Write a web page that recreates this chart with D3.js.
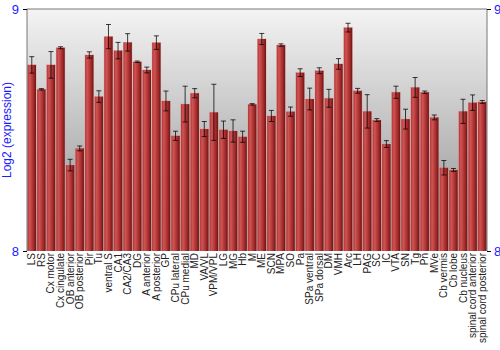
<!DOCTYPE html>
<html>
<head>
<meta charset="utf-8">
<script src="https://cdn.jsdelivr.net/npm/d3@7"></script>
<style>
  body { margin: 0; background: #fff; }
  svg { display: block; font-family: "Liberation Sans", Arial, sans-serif; }
</style>
</head>
<body>
<svg id="chart" width="500" height="350"></svg>
<script>
const regions = ["LS", "RS", "Cx motor", "Cx cingulate", "OB anterior", "OB posterior", "Pir", "Tu",
  "ventral S", "CA1", "CA2/CA3", "DG", "A anterior", "A posterior", "GP", "CPu lateral", "CPu medial",
  "MD", "VA/VL", "VPM/VPL", "LG", "MG", "Hb", "M", "ME", "SCN", "MPA", "SO", "Pa", "SPa ventral",
  "SPa dorsal", "DM", "VMH", "Arc", "LH", "PAG", "SC", "IC", "VTA", "SN", "Tg", "Pn", "MVe",
  "Cb vermis", "Cb lobe", "Cb nucleus", "spinal cord anterior", "spinal cord posterior"];

const expression = [8.769, 8.668, 8.769, 8.840, 8.355, 8.424, 8.810, 8.638,
  8.886, 8.828, 8.862, 8.782, 8.748, 8.861, 8.620, 8.476, 8.607,
  8.652, 8.504, 8.573, 8.501, 8.496, 8.472, 8.606, 8.876, 8.558, 8.851, 8.576, 8.737, 8.628,
  8.745, 8.631, 8.773, 8.923, 8.662, 8.577, 8.541, 8.442, 8.656, 8.545, 8.676, 8.656, 8.552,
  8.344, 8.335, 8.577, 8.613, 8.616];

const errors = [0.034, 0.003, 0.055, 0.004, 0.024, 0.010, 0.013, 0.024,
  0.050, 0.034, 0.036, 0.003, 0.012, 0.028, 0.041, 0.019, 0.074,
  0.019, 0.031, 0.116, 0.036, 0.046, 0.023, 0.003, 0.023, 0.023, 0.005, 0.019, 0.016, 0.045,
  0.012, 0.037, 0.022, 0.018, 0.010, 0.069, 0.006, 0.014, 0.025, 0.041, 0.041, 0.005, 0.010,
  0.030, 0.006, 0.050, 0.032, 0.006];

const yTicks = [8, 9];

const margin = {top: 9, right: 13, bottom: 99, left: 27};
const width = 500 - margin.left - margin.right;
const height = 350 - margin.top - margin.bottom;

const data = regions.map((r, i) => ({name: r, value: expression[i], err: errors[i]}));

const svg = d3.select("#chart");
const defs = svg.append("defs");

// background gradient
const bg = defs.append("linearGradient").attr("id", "bg")
  .attr("x1", 0).attr("y1", 0).attr("x2", 0).attr("y2", 1);
bg.append("stop").attr("offset", "0%").attr("stop-color", "#f4f4f4");
bg.append("stop").attr("offset", "100%").attr("stop-color", "#8c8c8c");

// cylinder look for bars
const barGrad = defs.append("linearGradient").attr("id", "barGrad")
  .attr("x1", 0).attr("y1", 0).attr("x2", 1).attr("y2", 0);
barGrad.append("stop").attr("offset", "0%").attr("stop-color", "#b03535");
barGrad.append("stop").attr("offset", "25%").attr("stop-color", "#d05454");
barGrad.append("stop").attr("offset", "70%").attr("stop-color", "#a52c2c");
barGrad.append("stop").attr("offset", "100%").attr("stop-color", "#6e1414");

const g = svg.append("g").attr("transform", `translate(${margin.left},${margin.top})`);

const x = d3.scaleBand().domain(regions).range([0, width]).paddingInner(0.12).paddingOuter(0.06);
const y = d3.scaleLinear().domain([8, 9]).range([height, 0]);

g.append("rect").attr("width", width).attr("height", height).attr("fill", "url(#bg)");

// bars
g.selectAll("rect.halo").data(data).enter().append("rect")
  .attr("class", "halo")
  .attr("x", d => x(d.name) - 0.5)
  .attr("y", d => y(d.value) - 0.5)
  .attr("width", x.bandwidth() + 1)
  .attr("height", d => height - y(d.value) + 0.5)
  .attr("fill", "#e89a9a").attr("opacity", 0.6);

g.selectAll("rect.bar").data(data).enter().append("rect")
  .attr("class", "bar")
  .attr("x", d => x(d.name))
  .attr("y", d => y(d.value))
  .attr("width", x.bandwidth())
  .attr("height", d => height - y(d.value))
  .attr("fill", "url(#barGrad)");

// error bars
const eb = g.selectAll("g.err").data(data).enter().append("g")
  .attr("class", "err")
  .attr("transform", d => `translate(${x(d.name) + x.bandwidth() / 2},0)`)
  .attr("stroke", "#000").attr("stroke-opacity", 0.75).attr("stroke-width", 1);
eb.append("line").attr("y1", d => y(d.value + d.err)).attr("y2", d => y(d.value - d.err));
eb.append("line").attr("x1", -2.5).attr("x2", 2.5)
  .attr("y1", d => y(d.value + d.err)).attr("y2", d => y(d.value + d.err));
eb.append("line").attr("x1", -2.5).attr("x2", 2.5)
  .attr("y1", d => y(d.value - d.err)).attr("y2", d => y(d.value - d.err));

// frame lines
g.append("line").attr("x1", 0).attr("x2", width).attr("y1", 0).attr("y2", 0).attr("stroke", "#777");
g.append("line").attr("x1", 0).attr("x2", 0).attr("y1", 0).attr("y2", height).attr("stroke", "#777");
g.append("line").attr("x1", width).attr("x2", width).attr("y1", 0).attr("y2", height).attr("stroke", "#777");

// y axes
const yLeft = g.append("g").call(d3.axisLeft(y).tickValues(yTicks).tickFormat(d3.format("d")).tickSize(4).tickPadding(4));
const yRight = g.append("g").attr("transform", `translate(${width},0)`)
  .call(d3.axisRight(y).tickValues(yTicks).tickFormat(d3.format("d")).tickSize(4).tickPadding(3));
[yLeft, yRight].forEach(a => {
  a.select(".domain").remove();
  a.selectAll("text").attr("fill", "#1a1aff").style("font-size", "13px");
  a.selectAll("line").attr("stroke", "#000");
});

// x axis labels
const xAxis = g.append("g").attr("transform", `translate(0,${height})`)
  .call(d3.axisBottom(x).tickSize(0).tickPadding(0));
xAxis.select(".domain").remove();
xAxis.selectAll("text")
  .attr("transform", "rotate(-90)")
  .attr("text-anchor", "end")
  .attr("x", -2).attr("y", 0).attr("dy", "0.35em")
  .attr("fill", "#222")
  .style("font-size", "10px");

// y label
svg.append("text")
  .attr("transform", `translate(11,${margin.top + height / 2}) rotate(-90)`)
  .attr("text-anchor", "middle")
  .attr("fill", "#1a1aff")
  .style("font-size", "12px")
  .text("Log2 (expression)");
</script>
</body>
</html>
